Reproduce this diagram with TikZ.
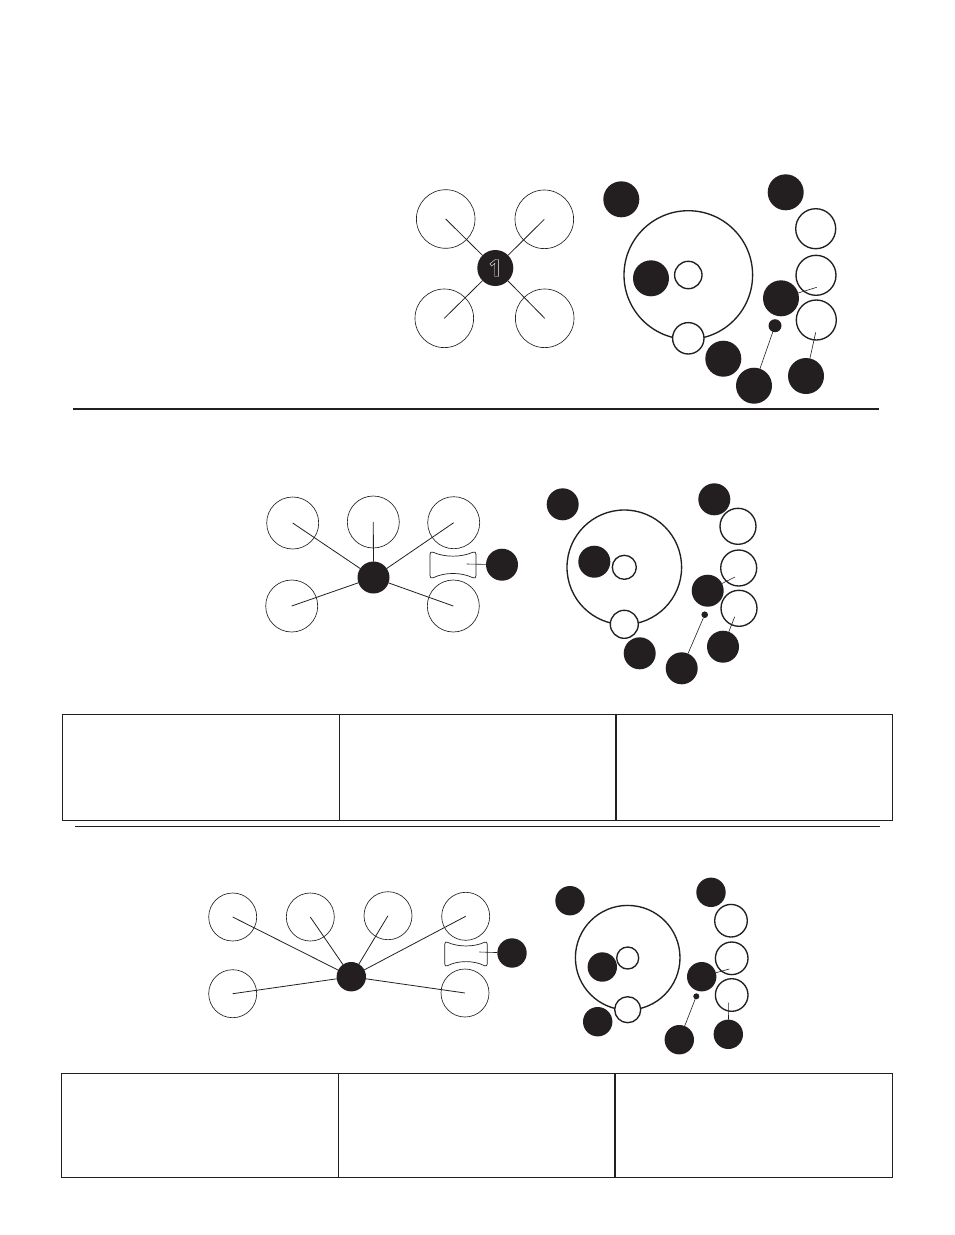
\documentclass[tikz,border=0pt]{standalone}
\usepackage{fontspec}
\setmainfont{Liberation Sans}
\newfontfamily\onefont{Open Sans}
\definecolor{ink}{HTML}{231F20}
\tikzset{
  every node/.style={inner sep=0pt,outer sep=0pt},
  dot/.style={circle,fill=ink,draw=none},
  dotL/.style={dot,minimum size=36pt},
  dotM/.style={dot,minimum size=32pt},
  dotS/.style={dot,minimum size=29.4pt},
  thinring/.style={circle,draw=ink,line width=0.65pt},
  ring/.style={circle,draw=ink,line width=1.35pt},
  wring/.style={ring,fill=white},
  spoke/.style={draw=ink,line width=0.8pt},
  leader/.style={draw=ink,line width=0.6pt},
  rule/.style={draw=ink},
  cell/.style={rectangle,draw=ink,line width=1.3pt},
  bone/.style={draw=ink,line width=0.7pt}
}
\begin{document}
\begin{tikzpicture}[x=1pt,y=-1pt]
\useasboundingbox (0,0) rectangle (954,1235);
\fill[white] (0,0) rectangle (954,1235);

% ---------- Section 1, left
\node[dotL,text=white,font=\onefont\bfseries\fontsize{24}{24}\selectfont] (h1) at (495.3,268) {\special{pdf:literal 1 Tr 0.35 w 1 1 1 RG}1\special{pdf:literal 0 Tr 0 0 0 RG}};
\node[thinring,minimum size=58.6pt] (a1) at (445.7,219) {};
\node[thinring,minimum size=58.6pt] (a2) at (544.3,219.3) {};
\node[thinring,minimum size=58.6pt] (a3) at (444.3,318.3) {};
\node[thinring,minimum size=58.6pt] (a4) at (544.7,318.3) {};
\foreach \n in {a1,a2,a3,a4} \draw[spoke] (\n.center) -- (h1);

% ---------- Section 1, right
\node[ring,minimum size=128.6pt] (b0) at (688.3,275) {};
\node[ring,minimum size=27.4pt] (b1) at (688.3,275) {};
\node[wring,minimum size=31.4pt] (b2) at (688.3,338.3) {};
\node[dotL] (b3) at (621.3,199.3) {};
\node[dotL] (b4) at (785.7,192.3) {};
\node[dotL] (b5) at (651,278.3) {};
\node[dotL] (b6) at (723.3,358.7) {};
\node[dotL] (b7) at (754,385.7) {};
\node[dotL] (b8) at (781,298.3) {};
\node[dotL] (b9) at (806,376) {};
\node[dot,minimum size=13pt] (b10) at (775,325.7) {};
\node[ring,minimum size=40pt] (b11) at (815.7,228.7) {};
\node[ring,minimum size=40pt] (b12) at (816,275.3) {};
\node[ring,minimum size=40pt] (b13) at (816.3,320) {};
\coordinate (b14) at (816.7,287.3);
\coordinate (b15) at (815.7,332.3);
\draw[leader] (b14) -- (b8);
\draw[leader] (b15) -- (b9);
\draw[leader] (b10) -- (b7);

\coordinate (r1a) at (73,409);
\coordinate (r1b) at (879,409);
\draw[rule,line width=2pt] (r1a) -- (r1b);

% ---------- Section 2, left
\node[dotM] (h2) at (373.5,577.5) {};
\node[thinring,minimum size=52pt] (c1) at (292.7,523) {};
\node[thinring,minimum size=52pt] (c2) at (373.3,522) {};
\node[thinring,minimum size=52pt] (c3) at (453.7,522.7) {};
\node[thinring,minimum size=52pt] (c4) at (291.7,606) {};
\node[thinring,minimum size=52pt] (c5) at (453.3,606) {};
\foreach \n in {c1,c2,c3,c4,c5} \draw[spoke] (\n.center) -- (h2);
\draw[bone] (430,554.5) .. controls (430,552.5) and (431,551.5) .. (433,552.2)
  .. controls (445,557.5) and (461,557.5) .. (473,552.2)
  .. controls (475,551.5) and (476,552.5) .. (476,554.5)
  -- (476,575.5)
  .. controls (476,577.5) and (475,578.5) .. (473,577.8)
  .. controls (461,572) and (445,572) .. (433,577.8)
  .. controls (431,578.5) and (430,577.5) .. (430,575.5) -- cycle;
\coordinate (c6) at (466.7,564);
\node[dotM] (c7) at (502,564.7) {};
\draw[leader] (c6) -- (c7);

% ---------- Section 2, right
\node[ring,minimum size=114.6pt] (d0) at (624.3,567.3) {};
\node[ring,minimum size=24pt] (d1) at (624.3,567.3) {};
\node[wring,minimum size=28pt] (d2) at (624.3,624.3) {};
\node[dotM] (d3) at (562.7,504.3) {};
\node[dotM] (d4) at (714.3,499.3) {};
\node[dotM] (d5) at (594.3,561.7) {};
\node[dotM] (d6) at (639.7,653.3) {};
\node[dotM] (d7) at (681.7,668.3) {};
\node[dotM] (d8) at (707.7,590.7) {};
\node[dotM] (d9) at (723,646.7) {};
\node[dot,minimum size=6.6pt] (d10) at (704.7,614.7) {};
\node[ring,minimum size=36pt] (d11) at (738,526.3) {};
\node[ring,minimum size=36pt] (d12) at (738.7,568) {};
\node[ring,minimum size=36pt] (d13) at (739,608.3) {};
\coordinate (d14) at (735,577);
\coordinate (d15) at (734.7,616.7);
\draw[leader] (d14) -- (d8);
\draw[leader] (d15) -- (d9);
\draw[leader] (d10) -- (d7);

% ---------- Table 1
\node[cell,minimum width=277pt,minimum height=106.2pt,anchor=north west] (t1) at (62.3,714.3) {};
\node[cell,minimum width=276.7pt,minimum height=106.2pt,anchor=north west] (t2) at (339.3,714.3) {};
\node[cell,minimum width=276.7pt,minimum height=106.2pt,anchor=north west] (t3) at (616,714.3) {};

\coordinate (r2a) at (75,826.5);
\coordinate (r2b) at (880,826.5);
\draw[rule,line width=0.9pt] (r2a) -- (r2b);

% ---------- Section 3, left
\node[dotS] (h3) at (351.3,976.7) {};
\node[thinring,minimum size=48pt] (e1) at (232.7,917) {};
\node[thinring,minimum size=48pt] (e2) at (310.3,917) {};
\node[thinring,minimum size=48pt] (e3) at (388,915.7) {};
\node[thinring,minimum size=48pt] (e4) at (465.7,916.3) {};
\node[thinring,minimum size=48pt] (e5) at (232.7,993.7) {};
\node[thinring,minimum size=48pt] (e6) at (465,993) {};
\foreach \n in {e1,e2,e3,e4,e5,e6} \draw[spoke] (\n.center) -- (h3);
\draw[bone] (444.8,944) .. controls (444.8,942.4) and (445.6,941.6) .. (447.3,942.2)
  .. controls (458,947.2) and (474,947.2) .. (484.7,942.2)
  .. controls (486.4,941.6) and (487.2,942.4) .. (487.2,944)
  -- (487.2,964)
  .. controls (487.2,965.6) and (486.4,966.4) .. (484.7,965.8)
  .. controls (474,960.2) and (458,960.2) .. (447.3,965.8)
  .. controls (445.6,966.4) and (444.8,965.6) .. (444.8,964) -- cycle;
\coordinate (e7) at (479.3,952);
\node[dotS] (e8) at (512,953) {};
\draw[leader] (e7) -- (e8);

% ---------- Section 3, right
\node[ring,minimum size=104.6pt] (f0) at (627.7,957.7) {};
\node[ring,minimum size=22pt] (f1) at (627.7,958) {};
\node[wring,minimum size=26pt] (f2) at (627.7,1009.7) {};
\node[dotS] (f3) at (570,900.7) {};
\node[dotS] (f4) at (711,892.3) {};
\node[dotS] (f5) at (602.3,967) {};
\node[dotS] (f6) at (597.7,1021.7) {};
\node[dotS] (f7) at (679.3,1039.7) {};
\node[dotS] (f8) at (701.7,976.7) {};
\node[dotS] (f9) at (728.3,1034.3) {};
\node[dot,minimum size=6pt] (f10) at (696.3,996.3) {};
\node[ring,minimum size=32.6pt] (f11) at (731,920.7) {};
\node[ring,minimum size=32.6pt] (f12) at (731.7,958.3) {};
\node[ring,minimum size=32.6pt] (f13) at (731.7,995) {};
\coordinate (f14) at (729.3,969);
\coordinate (f15) at (728.7,1002.7);
\draw[leader] (f14) -- (f8);
\draw[leader] (f15) -- (f9);
\draw[leader] (f10) -- (f7);

% ---------- Table 2
\node[cell,minimum width=276.9pt,minimum height=103.6pt,anchor=north west] (u1) at (61.3,1073.7) {};
\node[cell,minimum width=276.8pt,minimum height=103.6pt,anchor=north west] (u2) at (338.2,1073.7) {};
\node[cell,minimum width=277.7pt,minimum height=103.6pt,anchor=north west] (u3) at (615,1073.7) {};
\end{tikzpicture}
\end{document}
